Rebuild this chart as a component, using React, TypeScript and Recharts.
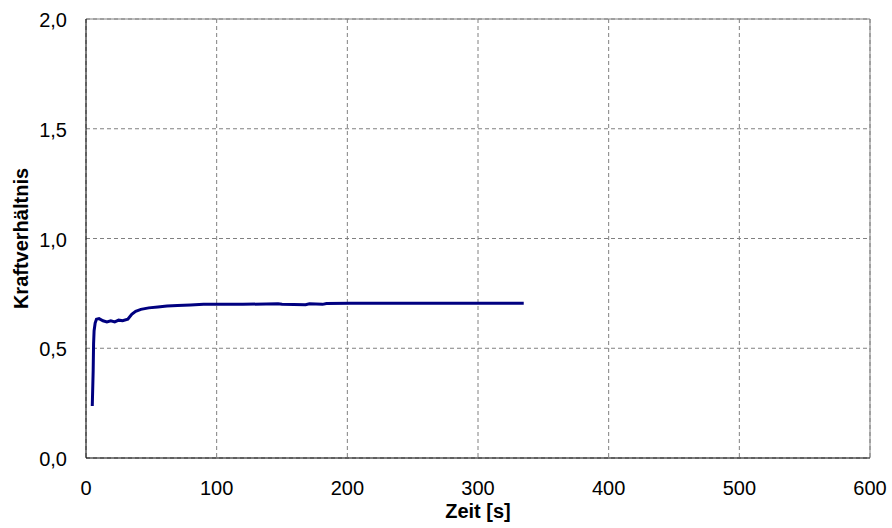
import { LineChart, Line, XAxis, YAxis, CartesianGrid, ReferenceLine } from "recharts";

const zeit = [
  4.8, 5.2, 5.5, 5.8, 6.2, 7, 8, 10, 13, 16, 19, 22, 25, 28, 32, 35, 38, 42, 48,
  55, 62, 70, 80, 90, 120, 147, 150, 168, 171, 181, 184, 202, 250, 300, 335,
];
const kraftverhaeltnis = [
  0.237, 0.33, 0.4, 0.52, 0.58, 0.615, 0.632, 0.635, 0.625, 0.62, 0.625, 0.62,
  0.628, 0.625, 0.632, 0.655, 0.668, 0.677, 0.684, 0.688, 0.692, 0.695, 0.697,
  0.7, 0.7, 0.703, 0.7, 0.698, 0.703, 0.7, 0.704, 0.705, 0.705, 0.705, 0.705,
];

const xTicks = [0, 100, 200, 300, 400, 500, 600];
const yTicks = [0, 0.5, 1, 1.5, 2];

const data = zeit.map((t, i) => ({ t, v: kraftverhaeltnis[i] }));

const font = "'Liberation Sans', Arial, sans-serif";

function XTick({ x, y, payload }: any) {
  return (
    <text x={x} y={y} dy={37} textAnchor="middle" fontFamily={font} fontSize={20} fill="#000">
      {payload.value}
    </text>
  );
}

function YTick({ x, y, payload }: any) {
  return (
    <text x={x - 19} y={y} dy={8} textAnchor="end" fontFamily={font} fontSize={20} fill="#000">
      {payload.value.toFixed(1).replace(".", ",")}
    </text>
  );
}

function YLabel({ viewBox }: any) {
  const cy = viewBox.y + viewBox.height / 2;
  const x = 28;
  return (
    <text
      x={x}
      y={cy}
      transform={`rotate(-90, ${x}, ${cy})`}
      textAnchor="middle"
      fontFamily={font}
      fontSize={20}
      fontWeight="bold"
      fill="#000"
    >
      Kraftverhältnis
    </text>
  );
}

function XLabel({ viewBox }: any) {
  const cx = viewBox.x + viewBox.width / 2;
  return (
    <text x={cx} y={518} textAnchor="middle" fontFamily={font} fontSize={20} fontWeight="bold" fill="#000">
      Zeit [s]
    </text>
  );
}

export default function App() {
  return (
    <div style={{ position: "absolute", left: 0, top: 0, background: "#fff" }}>
      <LineChart
        width={892}
        height={528}
        data={data}
        margin={{ top: 19, right: 22, bottom: 0, left: 0 }}
      >
        <CartesianGrid stroke="#808080" strokeDasharray="4 3" />
        <ReferenceLine y={2} stroke="#808080" strokeWidth={1} />
        <ReferenceLine x={600} stroke="#808080" strokeWidth={1} />
        <XAxis
          dataKey="t"
          type="number"
          domain={[0, 600]}
          ticks={xTicks}
          tickLine={false}
          tickSize={0}
          tickMargin={0}
          height={70}
          axisLine={{ stroke: "#000", strokeWidth: 1 }}
          tick={<XTick />}
          label={<XLabel />}
        />
        <YAxis
          type="number"
          domain={[0, 2]}
          ticks={yTicks}
          tickLine={false}
          tickSize={0}
          tickMargin={0}
          width={86}
          axisLine={{ stroke: "#000", strokeWidth: 1 }}
          tick={<YTick />}
          label={<YLabel />}
        />
        <Line
          type="linear"
          dataKey="v"
          stroke="#000080"
          strokeWidth={3}
          dot={false}
          activeDot={false}
          isAnimationActive={false}
        />
      </LineChart>
    </div>
  );
}
